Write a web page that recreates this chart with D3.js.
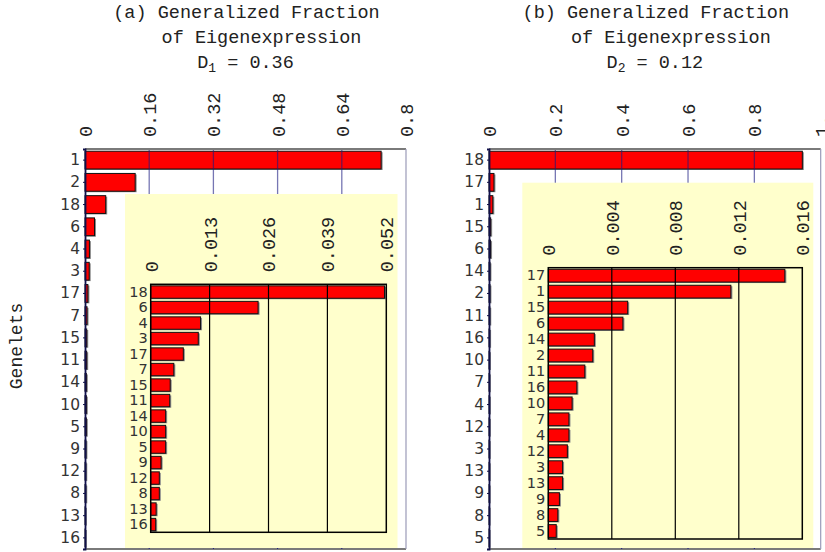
<!DOCTYPE html>
<html>
<head>
<meta charset="utf-8">
<script src="https://cdn.jsdelivr.net/npm/d3@7"></script>
<style>
  html, body { margin: 0; padding: 0; background: #fff; }
  svg { display: block; }
  text { white-space: pre; }
</style>
</head>
<body>
<svg id="chart" width="825" height="552"></svg>
<script>
// Generalized fraction of eigenexpression per genelet, sorted descending.
const genesA = ["1","2","18","6","4","3","17","7","15","11","14","10","5","9","12","8","13","16"];
const fractionA = [0.738,0.125,0.0516,0.0237,0.0110,0.0105,0.0072,0.0051,0.0043,0.0042,0.0033,0.0033,0.0033,0.0023,0.0019,0.0019,0.0012,0.0011];
const genesB = ["18","17","1","15","6","14","2","11","16","10","7","4","12","3","13","9","8","5"];
const fractionB = [0.9446,0.0149,0.0115,0.0050,0.0047,0.0029,0.0028,0.0023,0.0018,0.0015,0.0013,0.0013,0.0012,0.0009,0.0009,0.0007,0.0006,0.0005];

// Axis ticks for main panels and insets.
const ticksA = [0, 0.16, 0.32, 0.48, 0.64, 0.8];
const tickLabelsA = ["0","0.16","0.32","0.48","0.64","0.8"];
const insetTicksA = [0, 0.013, 0.026, 0.039, 0.052];
const insetTickLabelsA = ["0","0.013","0.026","0.039","0.052"];
const ticksB = [0, 0.2, 0.4, 0.6, 0.8, 1];
const tickLabelsB = ["0","0.2","0.4","0.6","0.8","1."];
const insetTicksB = [0, 0.004, 0.008, 0.012, 0.016];
const insetTickLabelsB = ["0","0.004","0.008","0.012","0.016"];

const titlesA = ["(a) Generalized Fraction", "of Eigenexpression"];
const titlesB = ["(b) Generalized Fraction", "of Eigenexpression"];
const entropyA = ["1", "0.36"];
const entropyB = ["2", "0.12"];
const yLabel = "Genelets";

const MONO = "'Liberation Mono', 'Courier New', monospace";
const SANS = "'DejaVu Sans', Verdana, sans-serif";

const svg = d3.select("#chart");

const panels = [
  {
    genes: genesA, values: fractionA, ticks: ticksA, tickLabels: tickLabelsA,
    titles: titlesA, entropy: entropyA,
    frame: {x0: 85, x1: 406, y0: 149, y1: 549},
    inset: {
      skip: 2, ticks: insetTicksA, tickLabels: insetTickLabelsA,
      bg: {x0: 125, x1: 397.5, y0: 194, y1: 548},
      frame: {x0: 150.7, x1: 386.3, y0: 284.3, y1: 532.3}
    }
  },
  {
    genes: genesB, values: fractionB, ticks: ticksB, tickLabels: tickLabelsB,
    titles: titlesB, entropy: entropyB,
    frame: {x0: 489, x1: 820.7, y0: 149, y1: 549},
    inset: {
      skip: 1, ticks: insetTicksB, tickLabels: insetTickLabelsB,
      bg: {x0: 522.3, x1: 813.3, y0: 182.7, y1: 548},
      frame: {x0: 548.3, x1: 802.3, y0: 267.7, y1: 539}
    }
  }
];

function drawBars(g, genes, values, x, y) {
  const rows = genes.map((k, i) => ({k, v: values[i]}));
  // soft shadow under each bar
  g.selectAll("rect.shadow").data(rows).join("rect")
    .attr("class", "shadow")
    .attr("x", x(0) + 0.5)
    .attr("y", d => y(d.k) + 1)
    .attr("width", d => Math.max(0, x(d.v) - x(0) + 1))
    .attr("height", y.bandwidth())
    .attr("fill", "#8a8a8a");
  g.selectAll("rect.bar").data(rows).join("rect")
    .attr("class", "bar")
    .attr("x", x(0))
    .attr("y", d => y(d.k))
    .attr("width", d => Math.max(0, x(d.v) - x(0)))
    .attr("height", y.bandwidth())
    .attr("fill", "#ff0000")
    .attr("stroke", "#111")
    .attr("stroke-width", 1);
}

function rotatedTopAxis(g, x, ticks, labels, y0) {
  const ax = d3.axisTop(x).tickValues(ticks)
    .tickFormat((d, i) => labels[i]).tickSize(0);
  const a = g.append("g").attr("transform", `translate(0,${y0})`).call(ax);
  a.select(".domain").remove();
  a.selectAll("text")
    .attr("transform", "rotate(-90)")
    .attr("x", 12).attr("y", 0).attr("dy", "0.35em")
    .attr("text-anchor", "start")
    .attr("font-family", MONO).attr("font-size", 18.5)
    .attr("fill", "#222");
  return a;
}

panels.forEach(p => {
  const f = p.frame;
  const g = svg.append("g");
  const x = d3.scaleLinear().domain([p.ticks[0], d3.max(p.ticks)]).range([f.x0, f.x1]);
  const y = d3.scaleBand().domain(p.genes).range([f.y0, f.y1])
    .paddingInner(0.2).paddingOuter(0.1);

  // main bars
  drawBars(g.append("g"), p.genes, p.values, x, y);

  // vertical grid lines over the main bars
  const inner = p.ticks.slice(1, -1);
  g.append("g").selectAll("line").data(inner).join("line")
    .attr("x1", d => x(d)).attr("x2", d => x(d))
    .attr("y1", f.y0).attr("y2", f.y1)
    .attr("stroke", "#1a1a80").attr("stroke-opacity", 0.6).attr("stroke-width", 1.3);

  // frame
  g.append("line").attr("x1", f.x0).attr("x2", f.x1).attr("y1", f.y0).attr("y2", f.y0)
    .attr("stroke", "#7a7a7a").attr("stroke-width", 2);
  g.append("line").attr("x1", f.x0).attr("x2", f.x1).attr("y1", f.y1).attr("y2", f.y1)
    .attr("stroke", "#7a7a7a").attr("stroke-width", 2);
  g.append("line").attr("x1", f.x1).attr("x2", f.x1).attr("y1", f.y0).attr("y2", f.y1)
    .attr("stroke", "#9a9ab8").attr("stroke-width", 1.2);

  // left axis with genelet labels
  const la = g.append("g").attr("transform", `translate(${f.x0},0)`)
    .call(d3.axisLeft(y).tickSize(2).tickPadding(3));
  la.select(".domain").attr("stroke", "#10104a").attr("stroke-width", 1.8);
  la.selectAll(".tick line").attr("stroke", "#10104a");
  la.selectAll("text").attr("font-family", SANS).attr("font-size", 15.5).attr("fill", "#333");

  // rotated top tick labels
  rotatedTopAxis(g, x, p.ticks, p.tickLabels, f.y0);

  // ticks on the bottom edge
  g.append("g").selectAll("line").data(inner).join("line")
    .attr("x1", d => x(d)).attr("x2", d => x(d))
    .attr("y1", f.y1 - 3).attr("y2", f.y1)
    .attr("stroke", "#1a1a80").attr("stroke-width", 1);

  // ---- inset: the smaller values on their own scale ----
  const ins = p.inset, b = ins.bg, fr = ins.frame;
  g.append("rect").attr("x", b.x0).attr("y", b.y0)
    .attr("width", b.x1 - b.x0).attr("height", b.y1 - b.y0)
    .attr("fill", "#ffffcc");
  const iGenes = p.genes.slice(ins.skip), iVals = p.values.slice(ins.skip);
  const ix = d3.scaleLinear().domain([0, d3.max(ins.ticks)]).range([fr.x0, fr.x1]);
  const iy = d3.scaleBand().domain(iGenes).range([fr.y0, fr.y1])
    .paddingInner(0.2).paddingOuter(0.1);
  drawBars(g.append("g"), iGenes, iVals, ix, iy);
  g.append("g").selectAll("line").data(ins.ticks.slice(1, -1)).join("line")
    .attr("x1", d => ix(d)).attr("x2", d => ix(d))
    .attr("y1", fr.y0).attr("y2", fr.y1)
    .attr("stroke", "#000").attr("stroke-width", 1.2);
  g.append("rect").attr("x", fr.x0).attr("y", fr.y0)
    .attr("width", fr.x1 - fr.x0).attr("height", fr.y1 - fr.y0)
    .attr("fill", "none").attr("stroke", "#000").attr("stroke-width", 1.5);
  const ila = g.append("g").attr("transform", `translate(${fr.x0},0)`)
    .call(d3.axisLeft(iy).tickSize(0).tickPadding(3));
  ila.select(".domain").remove();
  ila.selectAll("text").attr("font-family", SANS).attr("font-size", 14.5).attr("fill", "#333");
  rotatedTopAxis(g, ix, ins.ticks, ins.tickLabels, fr.y0);

  // title block
  const cx = (f.x0 + f.x1) / 2;
  const t = g.append("g").attr("font-family", MONO).attr("font-size", 18.5).attr("fill", "#222");
  t.append("text").attr("x", cx + 1).attr("y", 18).attr("text-anchor", "middle").text(p.titles[0]);
  t.append("text").attr("x", cx + 16).attr("y", 43).attr("text-anchor", "middle").text(p.titles[1]);
  const d = t.append("text").attr("x", cx).attr("y", 68).attr("text-anchor", "middle");
  d.append("tspan").text("D");
  d.append("tspan").attr("font-size", 13).attr("dy", 4).text(p.entropy[0]);
  d.append("tspan").attr("dy", -4).text(" = " + p.entropy[1]);
});

// shared y-axis title
svg.append("text")
  .attr("transform", "translate(16,346) rotate(-90)")
  .attr("text-anchor", "middle").attr("dy", "0.35em")
  .attr("font-family", MONO).attr("font-size", 18).attr("fill", "#222")
  .text(yLabel);
</script>
</body>
</html>
